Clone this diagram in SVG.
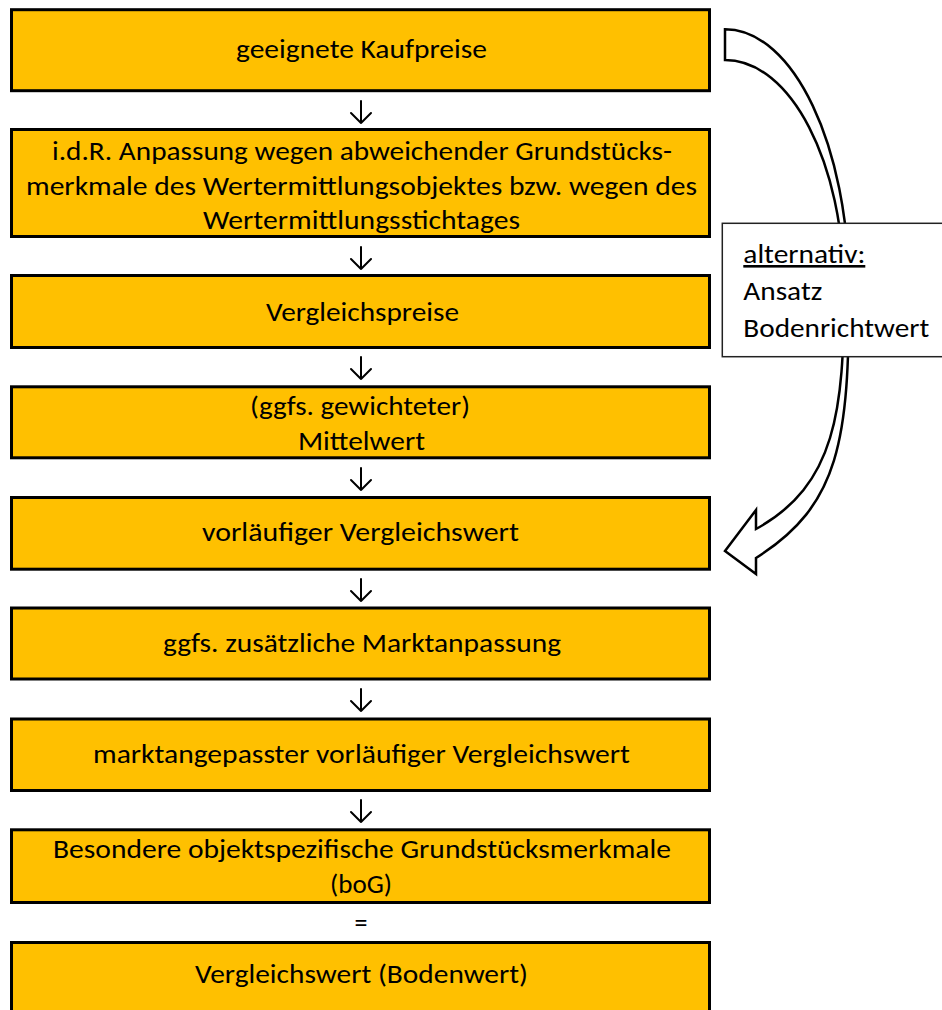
<svg xmlns="http://www.w3.org/2000/svg" width="942" height="1010" viewBox="0 0 942 1010">
<style>
.box{fill:#FFC000;stroke:#000;stroke-width:3}
.t{font-family:Carlito,Lato,"Liberation Sans",sans-serif;font-size:26px;fill:#000;text-anchor:middle}
.l{font-family:Carlito,Lato,"Liberation Sans",sans-serif;font-size:26px;fill:#000}
.arr{fill:none;stroke:#000;stroke-width:2;stroke-linecap:round;stroke-linejoin:round}
</style>
<rect width="942" height="1010" fill="#fff"/>
<g id="connectors">
<path class="arr" d="M361,101V123M351,113L361,123L371,113"/>
<path class="arr" d="M361,247V269M351,259L361,269L371,259"/>
<path class="arr" d="M361,357V379M351,369L361,379L371,369"/>
<path class="arr" d="M361,468V490M351,480L361,490L371,480"/>
<path class="arr" d="M361,579V601M351,591L361,601L371,591"/>
<path class="arr" d="M361,689V711M351,701L361,711L371,701"/>
<path class="arr" d="M361,800V822M351,812L361,822L371,812"/>
<g id="curved-arrow">
<path fill="#fff" stroke="#000" stroke-width="2.5" stroke-linejoin="miter" d="M725,29.3 C793.5,29.3 849,146 849,290 C849,440 840,505 756,558 L756,574 L725,551 L756,510 L756,529 C836,485 844,410 844,290 C844,163 790.7,60 725,60 Z"/>
</g>
</g>
<g id="n1"><rect class="box" x="11.5" y="9.7" width="698" height="81"/>
<text class="t" x="361.5" y="58" textLength="251" lengthAdjust="spacingAndGlyphs">geeignete Kaufpreise</text></g>
<g id="n2"><rect class="box" x="11.5" y="129.5" width="698" height="107"/>
<text class="t" x="362" y="160" textLength="620" lengthAdjust="spacingAndGlyphs">i.d.R. Anpassung wegen abweichender Grundstücks-</text>
<text class="t" x="361.5" y="195" textLength="671" lengthAdjust="spacingAndGlyphs">merkmale des Wertermittlungsobjektes bzw. wegen des</text>
<text class="t" x="361.5" y="229" textLength="317" lengthAdjust="spacingAndGlyphs">Wertermittlungsstichtages</text></g>
<g id="n3"><rect class="box" x="11.5" y="275.5" width="698" height="72"/>
<text class="t" x="362.5" y="321" textLength="193" lengthAdjust="spacingAndGlyphs">Vergleichspreise</text></g>
<g id="n4"><rect class="box" x="11.5" y="386.8" width="698" height="71"/>
<text class="t" x="360" y="415" textLength="220" lengthAdjust="spacingAndGlyphs">(ggfs. gewichteter)</text>
<text class="t" x="361.5" y="450" textLength="127" lengthAdjust="spacingAndGlyphs">Mittelwert</text></g>
<g id="n5"><rect class="box" x="11.5" y="497.5" width="698" height="71.7"/>
<text class="t" x="360.5" y="541" textLength="317" lengthAdjust="spacingAndGlyphs">vorläufiger Vergleichswert</text></g>
<g id="n6"><rect class="box" x="11.5" y="608" width="698" height="71"/>
<text class="t" x="362" y="652" textLength="398" lengthAdjust="spacingAndGlyphs">ggfs. zusätzliche Marktanpassung</text></g>
<g id="n7"><rect class="box" x="11.5" y="719" width="698" height="71.5"/>
<text class="t" x="361.5" y="763" textLength="537" lengthAdjust="spacingAndGlyphs">marktangepasster vorläufiger Vergleichswert</text></g>
<g id="n8"><rect class="box" x="11.5" y="829.8" width="698" height="72.7"/>
<text class="t" x="362" y="858" textLength="618" lengthAdjust="spacingAndGlyphs">Besondere objektspezifische Grundstücksmerkmale</text>
<text class="t" x="361" y="893" textLength="62" lengthAdjust="spacingAndGlyphs">(boG)</text></g>
<g id="eq"><text class="t" x="361" y="932">=</text></g>
<g id="n9"><rect class="box" x="11.5" y="942.5" width="698" height="100"/>
<text class="t" x="361.5" y="983" textLength="333" lengthAdjust="spacingAndGlyphs">Vergleichswert (Bodenwert)</text></g>
<g id="label"><rect x="722.3" y="223.3" width="230" height="133.4" fill="#fff" stroke="#222" stroke-width="1.5"/>
<text class="l" x="743.3" y="263" textLength="122" lengthAdjust="spacingAndGlyphs" text-decoration="underline">alternativ:</text>
<text class="l" x="743.3" y="300" textLength="79" lengthAdjust="spacingAndGlyphs">Ansatz</text>
<text class="l" x="743.3" y="337" textLength="186" lengthAdjust="spacingAndGlyphs">Bodenrichtwert</text></g>
</svg>
